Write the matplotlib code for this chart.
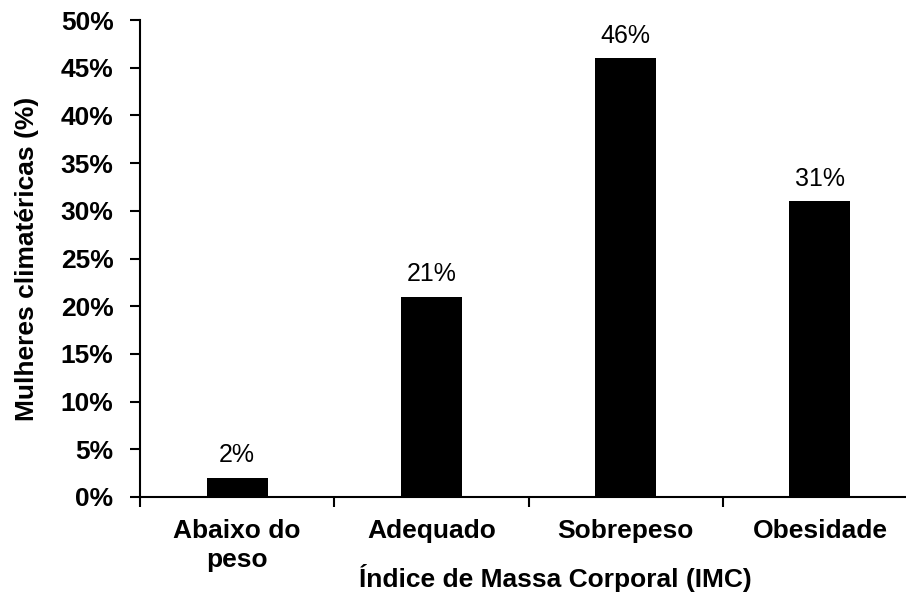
import matplotlib
matplotlib.use("Agg")
import matplotlib.pyplot as plt
from matplotlib.ticker import FuncFormatter, FixedLocator, NullFormatter

plt.rcParams['font.family'] = ['Liberation Sans', 'DejaVu Sans']

categories = ["Abaixo do\npeso", "Adequado", "Sobrepeso", "Obesidade"]
values = [2, 21, 46, 31]
value_labels = ["2%", "21%", "46%", "31%"]
y_ticks = [0, 5, 10, 15, 20, 25, 30, 35, 40, 45, 50]

W, H = 906, 595
fig = plt.figure(figsize=(W/100, H/100), dpi=100)
left, right, bottom, top = 140, 917, 497, 20
ax = fig.add_axes([left/W, (H-bottom)/H, (right-left)/W, (bottom-top)/H])

xs = [i + 0.5 for i in range(len(categories))]
bars = ax.bar(xs, values, width=0.315, color='black')
for x, v, lab in zip(xs, values, value_labels):
    ax.text(x, v + 1.1, lab, ha='center', va='bottom', fontsize=18)

ax.set_xlim(0, 4)
ax.set_ylim(0, 50)
ax.set_yticks(y_ticks)
ax.yaxis.set_major_formatter(FuncFormatter(lambda v, p: f"{int(v)}%"))
ax.tick_params(axis='y', direction='out', length=7, width=1.5, labelsize=19, pad=12)
for l in ax.get_yticklabels():
    l.set_fontweight('bold')

ax.xaxis.set_major_locator(FixedLocator([0, 1, 2, 3, 4]))
ax.xaxis.set_major_formatter(NullFormatter())
ax.xaxis.set_minor_locator(FixedLocator(xs))
ax.set_xticklabels(categories, minor=True, fontsize=19, fontweight='bold', linespacing=1.28)
ax.tick_params(axis='x', which='major', direction='out', length=7, width=1.5)
ax.tick_params(axis='x', which='minor', length=0, pad=15.5)

for s in ['top', 'right']:
    ax.spines[s].set_visible(False)
for s in ['left', 'bottom']:
    ax.spines[s].set_linewidth(1.5)

ax.set_ylabel("Mulheres climatéricas (%)", fontsize=19, fontweight='bold')
ax.yaxis.set_label_coords((27 - left) / (right - left), 0.5)
ax.set_xlabel("Índice de Massa Corporal (IMC)", fontsize=19, fontweight='bold')
ax.xaxis.set_label_coords((555 - left) / (right - left), (bottom - 578) / (bottom - top))
ax.xaxis.label.set_va('center')
ax.yaxis.label.set_va('center')

fig.savefig("out.png", dpi=100)
